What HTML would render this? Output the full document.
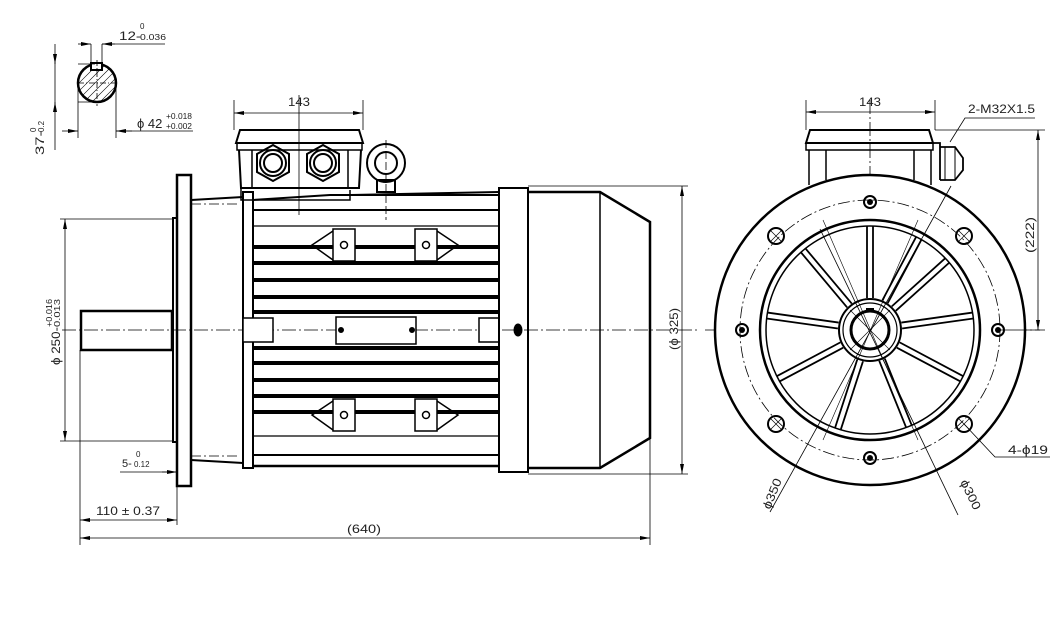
<!DOCTYPE html>
<html><head><meta charset="utf-8"><style>
html,body{margin:0;padding:0;background:#fff}
svg{display:block}
text{font-family:"Liberation Sans",sans-serif;fill:#222}
</style></head><body>
<svg width="1057" height="625" viewBox="0 0 1057 625" xmlns="http://www.w3.org/2000/svg">
<defs>
<marker id="a" markerWidth="10" markerHeight="6" refX="10" refY="3" orient="auto-start-reverse" markerUnits="userSpaceOnUse"><path d="M0,1 L10,3 L0,5 z" fill="#000"/></marker>
</defs>
<g fill="none" stroke="#000">
<!-- ===== shaft section (top-left) ===== -->
<circle cx="97" cy="83" r="19" stroke-width="2.5"/>
<g stroke-width="0.6"><clipPath id="cs"><circle cx="97" cy="83" r="19"/></clipPath>
<g clip-path="url(#cs)">
<path d="M70,100 L110,60 M74,104 L114,64 M78,108 L118,68 M82,112 L122,72 M66,96 L106,56 M62,92 L102,52 M86,116 L126,76 M90,120 L130,80 M58,88 L98,48 M94,124 L134,84"/>
</g></g>
<rect x="91" y="63" width="11" height="7" fill="#fff" stroke-width="2"/>
<g stroke-width="0.8">
<line x1="91" y1="63" x2="91" y2="44"/><line x1="102" y1="63" x2="102" y2="44"/>
<line x1="78" y1="44" x2="91" y2="44" marker-end="url(#a)"/><line x1="115" y1="44" x2="102" y2="44" marker-end="url(#a)"/>
<line x1="102" y1="44" x2="165" y2="44"/>
<line x1="78" y1="64" x2="95" y2="64"/><line x1="78" y1="102" x2="97" y2="102"/>
<line x1="55" y1="56" x2="55" y2="64" /><line x1="55" y1="56" x2="55" y2="150"/>
<line x1="55" y1="44" x2="55" y2="64" marker-end="url(#a)"/><line x1="55" y1="112" x2="55" y2="102" marker-end="url(#a)"/>
<line x1="78" y1="83" x2="118" y2="83" stroke-dasharray="6,2,1,2"/><line x1="97" y1="60" x2="97" y2="106" stroke-dasharray="6,2,1,2"/>
<line x1="78" y1="83" x2="78" y2="138"/><line x1="116" y1="83" x2="116" y2="138"/>
<line x1="62" y1="131" x2="78" y2="131" marker-end="url(#a)"/><line x1="132" y1="131" x2="116" y2="131" marker-end="url(#a)"/>
<line x1="116" y1="131" x2="193" y2="131"/>
</g>
<!-- ===== side view ===== -->
<g stroke-width="0.8">
<line x1="62" y1="330" x2="700" y2="330" stroke-dasharray="14,3,2,3"/>
</g>
<!-- shaft -->
<path d="M81,311 L172,311 L172,350 L81,350 Z" stroke-width="2.5"/>
<rect x="173" y="218" width="4" height="224" stroke-width="2"/>
<rect x="177" y="175" width="14" height="311" stroke-width="2.5"/>
<!-- nose -->
<path d="M191,200 L243,197 M191,460 L243,463" stroke-width="2"/>
<line x1="191" y1="204" x2="240" y2="204" stroke-width="0.8" stroke-dasharray="10,3,2,3"/>
<line x1="191" y1="456" x2="240" y2="456" stroke-width="0.8" stroke-dasharray="10,3,2,3"/>
<rect x="243" y="192" width="10" height="276" stroke-width="2"/>
<!-- frame -->
<path d="M253,210 L253,455 L499,455 L499,210 Z" stroke-width="2"/>
<path d="M253,200 L330,195 L499,195" stroke-width="2"/>
<path d="M253,466 L499,466" stroke-width="2.5"/>
<line x1="253" y1="226" x2="499" y2="226" stroke-width="1.2"/>
<line x1="253" y1="436" x2="499" y2="436" stroke-width="1.2"/>
<g stroke-width="4">
<line x1="253" y1="247" x2="498" y2="247"/><line x1="253" y1="263" x2="498" y2="263"/>
<line x1="253" y1="280" x2="498" y2="280"/><line x1="253" y1="297" x2="498" y2="297"/>
<line x1="253" y1="312" x2="498" y2="312"/><line x1="253" y1="348" x2="498" y2="348"/>
<line x1="253" y1="363" x2="498" y2="363"/><line x1="253" y1="380" x2="498" y2="380"/>
<line x1="253" y1="396" x2="498" y2="396"/><line x1="253" y1="412" x2="498" y2="412"/>
</g>
<!-- feet pads -->
<g stroke-width="1.5" fill="#fff">
<rect x="333" y="229" width="22" height="32"/><rect x="415" y="229" width="22" height="32"/>
<rect x="333" y="399" width="22" height="32"/><rect x="415" y="399" width="22" height="32"/>
<rect x="336" y="317" width="80" height="27"/>
<rect x="243" y="318" width="30" height="24"/><rect x="479" y="318" width="20" height="24"/>
</g>
<g stroke-width="1.5">
<path d="M333,231 L312,245 L333,260 M437,231 L458,245 L437,260"/>
<path d="M333,401 L312,415 L333,430 M437,401 L458,415 L437,430"/>
<circle cx="344" cy="245" r="3.5"/><circle cx="426" cy="245" r="3.5"/>
<circle cx="344" cy="415" r="3.5"/><circle cx="426" cy="415" r="3.5"/>
</g>
<circle cx="341" cy="330" r="2.5" fill="#000"/><circle cx="412" cy="330" r="2.5" fill="#000"/>
<!-- end ring & cover -->
<rect x="499" y="188" width="29" height="284" stroke-width="2"/>
<ellipse cx="518" cy="330" rx="4" ry="6" fill="#000"/>
<path d="M528,192 L600,192 L650,222 L650,438 L600,468 L528,468" stroke-width="2.5"/>
<line x1="600" y1="192" x2="600" y2="468" stroke-width="1.5"/>
<!-- terminal box -->
<path d="M236,143 L240,130 L359,130 L363,143 Z" stroke-width="2"/>
<path d="M237,143 L362,143 L362,150 L237,150 Z" stroke-width="1.5"/>
<path d="M239,150 L241,188 L359,188 L361,150" stroke-width="2"/>
<path d="M252,150 L252,188 M348,150 L348,188" stroke-width="1.5"/>
<g stroke-width="2">
<polygon points="273,145 289,154 289,172 273,181 257,172 257,154"/>
<polygon points="323,145 339,154 339,172 323,181 307,172 307,154"/>
<circle cx="273" cy="163" r="13"/><circle cx="273" cy="163" r="9"/>
<circle cx="323" cy="163" r="13"/><circle cx="323" cy="163" r="9"/>
<circle cx="386" cy="163" r="19"/><circle cx="386" cy="163" r="11"/>
<rect x="377" y="180" width="18" height="12"/>
</g>
<path d="M241,188 L241,200 L350,200 L350,190" stroke-width="1.5"/>
<line x1="351" y1="195" x2="499" y2="192" stroke-width="2"/>
<g stroke-width="0.8">
<line x1="299" y1="95" x2="299" y2="215"/>
<line x1="386" y1="140" x2="386" y2="220" stroke-dasharray="8,3"/>
<line x1="234" y1="100" x2="234" y2="130"/><line x1="363" y1="100" x2="363" y2="130"/>
<line x1="234" y1="113" x2="363" y2="113" marker-start="url(#a)" marker-end="url(#a)"/>
</g>
<!-- side dims -->
<g stroke-width="0.8">
<line x1="60" y1="219" x2="172" y2="219"/><line x1="60" y1="441" x2="172" y2="441"/>
<line x1="65" y1="219" x2="65" y2="441" marker-start="url(#a)" marker-end="url(#a)"/>
<line x1="120" y1="472" x2="177" y2="472"/>
<line x1="162" y1="472" x2="177" y2="472" marker-end="url(#a)"/>
<line x1="80" y1="350" x2="80" y2="545"/><line x1="177" y1="486" x2="177" y2="525"/>
<line x1="80" y1="520" x2="177" y2="520" marker-start="url(#a)" marker-end="url(#a)"/>
<line x1="650" y1="438" x2="650" y2="545"/>
<line x1="80" y1="538" x2="650" y2="538" marker-start="url(#a)" marker-end="url(#a)"/>
<line x1="528" y1="186" x2="688" y2="186"/><line x1="528" y1="474" x2="688" y2="474"/>
<line x1="682" y1="186" x2="682" y2="474" marker-start="url(#a)" marker-end="url(#a)"/>
</g>
<!-- ===== end view ===== -->
<g stroke-width="0.8">
<line x1="705" y1="330" x2="1040" y2="330" stroke-dasharray="14,3,2,3"/>
<line x1="870" y1="100" x2="870" y2="480" stroke-dasharray="14,3,2,3"/>
<circle cx="870" cy="330" r="130" stroke-dasharray="12,3,2,3"/>
</g>
<!-- end terminal box -->
<path d="M806,143 L810,130 L929,130 L933,143 Z" stroke-width="2"/>
<rect x="806" y="143" width="127" height="7" stroke-width="1.5"/>
<path d="M809,150 L809,185 M931,150 L931,185 M826,150 L826,180 M914,150 L914,180" stroke-width="1.5"/>
<path d="M933,143 L940,143 L940,180 M940,147 L955,147 L963,158 L963,170 L955,180 L940,180" stroke-width="1.8"/>
<path d="M945,147 L945,180 M955,147 L955,180" stroke-width="1"/>
<circle cx="870" cy="330" r="155" fill="#fff" stroke-width="2.5"/>
<circle cx="870" cy="330" r="130" stroke-width="0.8" stroke-dasharray="12,3,2,3"/>
<circle cx="870" cy="330" r="110" stroke-width="2.5"/>
<circle cx="870" cy="330" r="104" stroke-width="1.5"/>
<g stroke-width="1.8" id="sp">
<g transform="rotate(0 870 330)"><path d="M867,298 L867,226 M873,298 L873,226"/></g>
<g transform="rotate(28 870 330)"><path d="M867,298 L867,226 M873,298 L873,226"/></g>
<g transform="rotate(48 870 330)"><path d="M867,298 L867,226 M873,298 L873,226"/></g>
<g transform="rotate(82 870 330)"><path d="M867,298 L867,226 M873,298 L873,226"/></g>
<g transform="rotate(118 870 330)"><path d="M867,298 L867,226 M873,298 L873,226"/></g>
<g transform="rotate(158 870 330)"><path d="M867,298 L867,226 M873,298 L873,226"/></g>
<g transform="rotate(198 870 330)"><path d="M867,298 L867,226 M873,298 L873,226"/></g>
<g transform="rotate(242 870 330)"><path d="M867,298 L867,226 M873,298 L873,226"/></g>
<g transform="rotate(278 870 330)"><path d="M867,298 L867,226 M873,298 L873,226"/></g>
<g transform="rotate(320 870 330)"><path d="M867,298 L867,226 M873,298 L873,226"/></g>
</g>
<circle cx="870" cy="330" r="31" fill="#fff" stroke-width="2"/>
<circle cx="870" cy="330" r="27" stroke-width="1.2"/>
<circle cx="870" cy="330" r="19" stroke-width="3"/>
<rect x="866" y="308" width="8" height="4" fill="#000" stroke="none"/>
<g stroke-width="0.6">
<line x1="850" y1="310" x2="890" y2="350"/><line x1="850" y1="350" x2="890" y2="310"/>
<line x1="823" y1="220" x2="918" y2="440"/><line x1="918" y1="220" x2="823" y2="440"/>
</g>
<!-- bolts -->
<g stroke-width="2">
<circle cx="870" cy="202" r="6"/><circle cx="870" cy="458" r="6"/>
<circle cx="742" cy="330" r="6"/><circle cx="998" cy="330" r="6"/>
</g>
<g fill="#000" stroke="none">
<circle cx="870" cy="202" r="3"/><circle cx="870" cy="458" r="3"/>
<circle cx="742" cy="330" r="3"/><circle cx="998" cy="330" r="3"/>
</g>
<g stroke-width="2">
<circle cx="776" cy="236" r="8"/><circle cx="964" cy="236" r="8"/>
<circle cx="776" cy="424" r="8"/><circle cx="964" cy="424" r="8"/>
</g>
<g stroke-width="0.7">
<path d="M771,231 L781,241 M781,231 L771,241 M959,231 L969,241 M969,231 L959,241 M771,419 L781,429 M781,419 L771,429 M959,419 L969,429 M969,419 L959,429"/>
</g>
<!-- end dims -->
<g stroke-width="0.8">
<line x1="806" y1="100" x2="806" y2="130"/><line x1="935" y1="100" x2="935" y2="130"/>
<line x1="806" y1="112" x2="935" y2="112" marker-start="url(#a)" marker-end="url(#a)"/>
<path d="M950,142 L965,118 L1035,118"/>
<line x1="935" y1="130" x2="1045" y2="130"/><line x1="1000" y1="330" x2="1045" y2="330"/>
<line x1="1038" y1="130" x2="1038" y2="330" marker-start="url(#a)" marker-end="url(#a)"/>
<path d="M964,424 L995,457 L1050,457"/>
<line x1="951" y1="186" x2="770" y2="512"/>
<line x1="820" y1="229" x2="958" y2="515"/>
</g>
</g>
<!-- texts -->
<g font-size="12">
<text x="119" y="40" textLength="22" lengthAdjust="spacingAndGlyphs">12-</text>
<text x="140" y="40" font-size="8" textLength="26" lengthAdjust="spacingAndGlyphs">0.036</text>
<text x="140" y="29" font-size="8">0</text>
<text x="137" y="128" font-size="13">ϕ 42</text>
<text x="166" y="119" font-size="8" textLength="26" lengthAdjust="spacingAndGlyphs">+0.018</text>
<text x="166" y="129" font-size="8" textLength="26" lengthAdjust="spacingAndGlyphs">+0.002</text>
<text transform="translate(44,155) rotate(-90)" font-size="12" textLength="24" lengthAdjust="spacingAndGlyphs">37-</text>
<text transform="translate(44,132) rotate(-90)" font-size="8">0.2</text>
<text transform="translate(36,132) rotate(-90)" font-size="8">0</text>
<text x="288" y="106" textLength="22" lengthAdjust="spacingAndGlyphs">143</text>
<text x="859" y="106" textLength="22" lengthAdjust="spacingAndGlyphs">143</text>
<text x="968" y="113" textLength="67" lengthAdjust="spacingAndGlyphs">2-M32X1.5</text>
<text transform="translate(1034,253) rotate(-90)" textLength="36" lengthAdjust="spacingAndGlyphs">(222)</text>
<text transform="translate(678,350) rotate(-90)" textLength="42" lengthAdjust="spacingAndGlyphs">(ϕ 325)</text>
<text transform="translate(60,365) rotate(-90)" textLength="38" lengthAdjust="spacingAndGlyphs">ϕ 250-</text>
<text transform="translate(52,327) rotate(-90)" font-size="8" textLength="28" lengthAdjust="spacingAndGlyphs">+0.016</text>
<text transform="translate(60,327) rotate(-90)" font-size="8" textLength="28" lengthAdjust="spacingAndGlyphs">0.013</text>
<text x="122" y="467" font-size="11">5-</text>
<text x="134" y="467" font-size="8">0.12</text>
<text x="136" y="457" font-size="8">0</text>
<text x="96" y="515" textLength="64" lengthAdjust="spacingAndGlyphs">110 ± 0.37</text>
<text x="347" y="533" textLength="34" lengthAdjust="spacingAndGlyphs">(640)</text>
<text x="1008" y="454" textLength="40" lengthAdjust="spacingAndGlyphs">4-ϕ19</text>
<text transform="translate(770,510) rotate(-68)" textLength="32" lengthAdjust="spacingAndGlyphs">ϕ350</text>
<text transform="translate(960,482) rotate(64)" textLength="32" lengthAdjust="spacingAndGlyphs">ϕ300</text>
</g>
</svg>
</body></html>
